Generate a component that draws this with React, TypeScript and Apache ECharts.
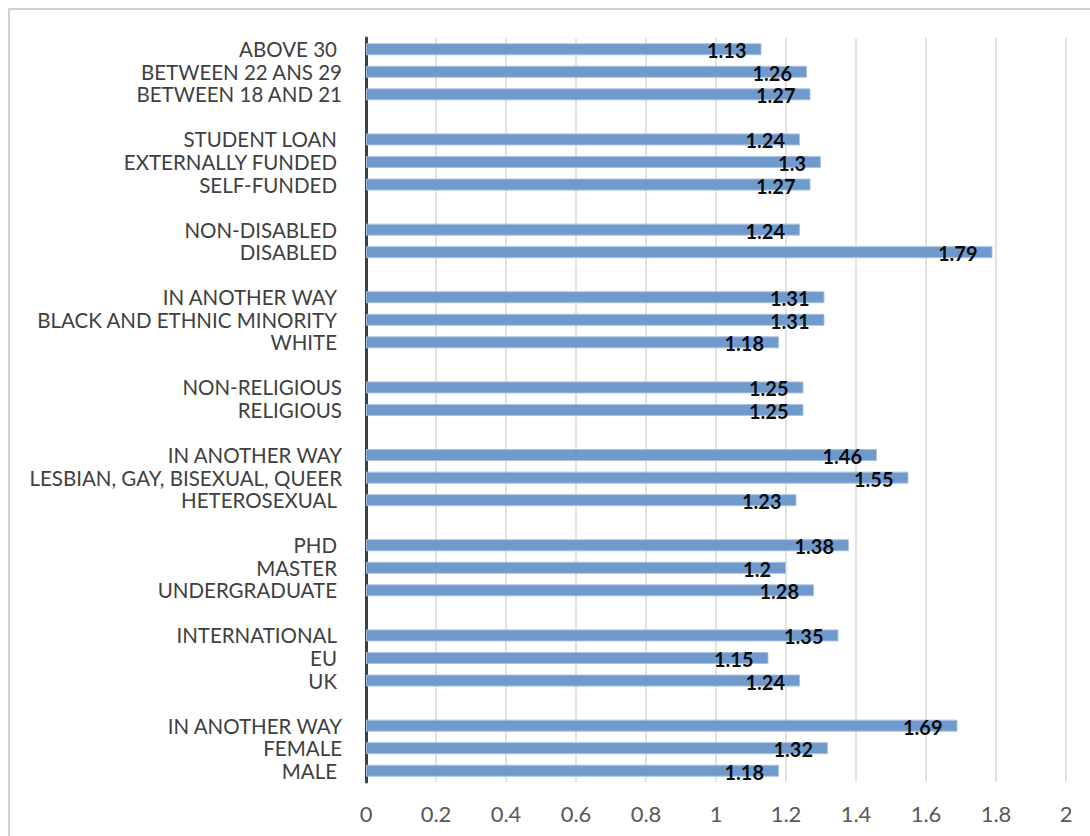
import React, { useEffect, useRef } from "react";
import * as echarts from "echarts";

// Categories listed top to bottom ("" = gap row)
const categories: string[] = [
  "ABOVE 30 ", "BETWEEN 22 ANS 29", "BETWEEN 18 AND 21", "",
  "STUDENT LOAN ", "EXTERNALLY FUNDED ", "SELF-FUNDED ", "",
  "NON-DISABLED ", "DISABLED ", "",
  "IN ANOTHER WAY ", "BLACK AND ETHNIC MINORITY ", "WHITE ", "",
  "NON-RELIGIOUS", "RELIGIOUS", "",
  "IN ANOTHER WAY", "LESBIAN, GAY, BISEXUAL, QUEER", "HETEROSEXUAL ", "",
  "PHD ", "MASTER ", "UNDERGRADUATE ", "",
  "INTERNATIONAL ", "EU ", "UK ", "",
  "IN ANOTHER WAY", "FEMALE", "MALE ",
];

const values: (number | null)[] = [
  1.13, 1.26, 1.27, null,
  1.24, 1.3, 1.27, null,
  1.24, 1.79, null,
  1.31, 1.31, 1.18, null,
  1.25, 1.25, null,
  1.46, 1.55, 1.23, null,
  1.38, 1.2, 1.28, null,
  1.35, 1.15, 1.24, null,
  1.69, 1.32, 1.18,
];

const xMin = 0;
const xMax = 2;
const xStep = 0.2;

export default function App() {
  const ref = useRef<HTMLDivElement>(null);

  useEffect(() => {
    document.body.style.margin = "0";
    document.body.style.overflow = "hidden";
    if (!ref.current) return;
    const chart = echarts.init(ref.current, undefined, { renderer: "svg" });
    chart.setOption({
      animation: false,
      backgroundColor: "#ffffff",
      graphic: [
        {
          type: "rect",
          shape: { x: 9, y: 9, width: 1200, height: 1000 },
          style: { fill: "none", stroke: "#d0d0d0", lineWidth: 2 },
          silent: true,
        },
      ],
      grid: { left: 366, right: 24, top: 38, bottom: 54, containLabel: false },
      xAxis: {
        type: "value",
        min: xMin,
        max: xMax,
        interval: xStep,
        axisLine: { show: false },
        axisTick: { show: false },
        splitLine: { show: true, lineStyle: { color: "#d9d9d9", width: 1.5 } },
        axisLabel: {
          color: "#595959",
          fontFamily: "Lato",
          fontSize: 22,
          margin: 20,
          formatter: (v: number) => String(Math.round(v * 10) / 10),
        },
      },
      yAxis: {
        type: "category",
        inverse: true,
        data: categories,
        axisLine: { show: true, lineStyle: { color: "#404040", width: 3 } },
        axisTick: { show: false },
        axisLabel: {
          interval: 0,
          color: "#404040",
          fontFamily: "Lato",
          fontSize: 20.5,
          margin: 24,
          formatter: (v: string) => {
            if (v.endsWith(" ")) return "{p|" + v.trimEnd() + "}";
            return "{n|" + v + "}";
          },
          rich: {
            p: { fontFamily: "Lato", fontSize: 20.5, color: "#404040", padding: [0, 5, 0, 0] },
            n: { fontFamily: "Lato", fontSize: 20.5, color: "#404040" },
          },
        },
      },
      series: [
        {
          type: "bar",
          data: values,
          barWidth: 12,
          itemStyle: { color: "#6895c9", borderColor: "#a7c1e2", borderWidth: 1, opacity: 0.95 },
          label: {
            show: true,
            position: "insideRight",
            distance: 15,
            offset: [0, 1],
            color: "#000000",
            fontFamily: "Lato",
            fontWeight: "bold",
            fontSize: 20,
          },
        },
      ],
    });
    return () => chart.dispose();
  }, []);

  return <div ref={ref} style={{ width: 1090, height: 836 }} />;
}
